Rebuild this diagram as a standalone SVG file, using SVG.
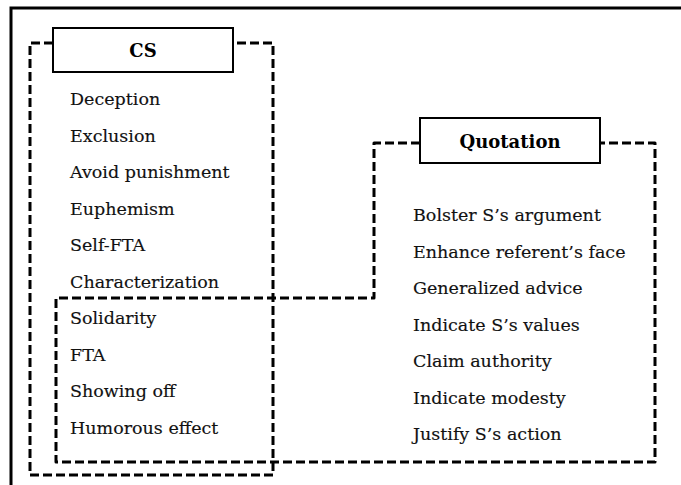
<svg xmlns="http://www.w3.org/2000/svg" width="681" height="485" viewBox="0 0 681 485">
  <style>
    .frame { fill: none; stroke: #000; stroke-width: 3; }
    .group-outline { fill: none; stroke: #000; stroke-width: 3; stroke-dasharray: 9 4; stroke-linejoin: round; }
    .label-box { fill: #fff; stroke: #000; stroke-width: 2; }
    .title { font-family: "DejaVu Serif", "Liberation Serif", serif; font-size: 18px; font-weight: bold; fill: #000; text-anchor: middle; }
    .item { font-family: "DejaVu Serif", "Liberation Serif", serif; font-size: 17.5px; fill: #111; stroke: #111; stroke-width: 0.15; }
  </style>
  <rect width="681" height="485" fill="#fff"/>

  <!-- outer frame (top and left edges) -->
  <path class="frame" d="M 11 485 V 8 H 681"/>

  <!-- CS group -->
  <g id="cs">
    <path class="group-outline" d="M 53 43 H 30 V 475 H 273 V 43 H 233"/>
    <rect class="label-box" x="53" y="28" width="180" height="44"/>
    <text class="title" x="143" y="57">CS</text>
    <text class="item" x="70" y="105">Deception</text>
    <text class="item" x="70" y="141.5">Exclusion</text>
    <text class="item" x="70" y="178">Avoid punishment</text>
    <text class="item" x="70" y="214.5">Euphemism</text>
    <text class="item" x="70" y="251">Self-FTA</text>
    <text class="item" x="70" y="287.5">Characterization</text>
    <text class="item" x="70" y="324">Solidarity</text>
    <text class="item" x="70" y="360.5">FTA</text>
    <text class="item" x="70" y="397">Showing off</text>
    <text class="item" x="70" y="433.5">Humorous effect</text>
  </g>

  <!-- Quotation group -->
  <g id="quotation">
    <path class="group-outline" d="M 420 143 H 374 V 298 H 56 V 462 H 655 V 143 H 600"/>
    <rect class="label-box" x="420" y="118" width="180" height="45"/>
    <text class="title" x="510" y="148">Quotation</text>
    <text class="item" x="413" y="221">Bolster S’s argument</text>
    <text class="item" x="413" y="257.5">Enhance referent’s face</text>
    <text class="item" x="413" y="294">Generalized advice</text>
    <text class="item" x="413" y="330.5">Indicate S’s values</text>
    <text class="item" x="413" y="367">Claim authority</text>
    <text class="item" x="413" y="403.5">Indicate modesty</text>
    <text class="item" x="413" y="440">Justify S’s action</text>
  </g>
</svg>
